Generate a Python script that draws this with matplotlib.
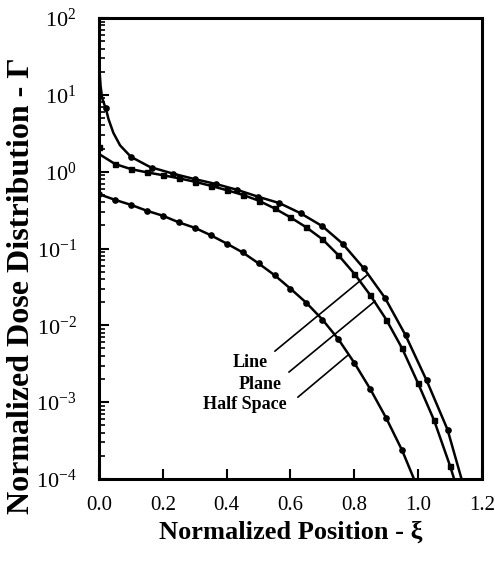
import matplotlib
matplotlib.use('Agg')
import matplotlib.pyplot as plt
import matplotlib.ticker as ticker

plt.rcParams['font.family'] = ['Liberation Serif', 'DejaVu Serif']
plt.rcParams['mathtext.fontset'] = 'custom'
plt.rcParams['mathtext.rm'] = 'Liberation Serif'
plt.rcParams['mathtext.it'] = 'Liberation Serif:italic'
plt.rcParams['mathtext.bf'] = 'Liberation Serif:bold'

# Line source (solid curve and markers)
line_x = [0.002, 0.005, 0.01, 0.022, 0.03, 0.045, 0.066, 0.1, 0.16, 0.233, 0.30, 0.367, 0.433,
          0.5, 0.565, 0.63, 0.7, 0.763, 0.83, 0.896, 0.96, 1.027, 1.092, 1.136, 1.15]
line_y = [20, 13, 9, 6.5, 4.8, 3.2, 2.2, 1.56, 1.15, 0.94, 0.80, 0.69, 0.58,
          0.47, 0.39, 0.29, 0.195, 0.116, 0.055, 0.0228, 0.0075, 0.0019, 0.00044, 0.0001, 0.00006]
line_mx = [0.022, 0.1, 0.165, 0.233, 0.30, 0.367, 0.433, 0.499, 0.564, 0.632, 0.698, 0.763,
           0.831, 0.896, 0.962, 1.027, 1.092]
line_my = [6.7, 1.56, 1.13, 0.94, 0.80, 0.69, 0.58, 0.47, 0.394, 0.292, 0.196, 0.116,
           0.055, 0.0228, 0.00745, 0.00193, 0.00044]

# Plane source
plane_x = [0.0, 0.05, 0.1, 0.15, 0.2, 0.25, 0.3, 0.35, 0.4, 0.45, 0.5, 0.55, 0.6, 0.65, 0.7,
           0.75, 0.8, 0.85, 0.9, 0.95, 1.0, 1.05, 1.1, 1.12]
plane_y = [1.7, 1.26, 1.08, 0.98, 0.90, 0.82, 0.74, 0.655, 0.575, 0.50, 0.42, 0.333, 0.254, 0.188,
           0.132, 0.082, 0.047, 0.0247, 0.0119, 0.005, 0.00175, 0.00058, 0.000148, 0.00008]
plane_mx = [0.0, 0.05, 0.1, 0.15, 0.2, 0.25, 0.3, 0.35, 0.4, 0.45, 0.5, 0.55, 0.6, 0.65, 0.7,
            0.75, 0.8, 0.85, 0.9, 0.95, 1.0, 1.05, 1.1]
plane_my = [2.1, 1.26, 1.08, 0.98, 0.90, 0.82, 0.74, 0.655, 0.575, 0.50, 0.42, 0.333, 0.254, 0.188,
            0.132, 0.082, 0.047, 0.0247, 0.0119, 0.005, 0.00175, 0.00058, 0.000148]

# Half space source
half_x = [0.0, 0.05, 0.1, 0.15, 0.2, 0.25, 0.3, 0.35, 0.4, 0.45, 0.5, 0.55, 0.6, 0.65, 0.7,
          0.75, 0.8, 0.85, 0.9, 0.95, 1.0]
half_y = [0.51, 0.43, 0.37, 0.31, 0.267, 0.219, 0.186, 0.149, 0.116, 0.089, 0.064, 0.045, 0.030,
          0.0196, 0.0119, 0.0066, 0.00325, 0.00148, 0.00062, 0.000235, 0.000074]

# label text positions and leader line (start, end) in data units
labels = ['Line', 'Plane', 'Half Space']
label_pos = [(0.42, 0.00332), (0.439, 0.00171), (0.326, 0.00094)]
leader_start = [(0.551, 0.00461), (0.595, 0.00246), (0.623, 0.00116)]
leader_end = [(0.840, 0.0451), (0.865, 0.0207), (0.780, 0.00409)]

xticks = [0.0, 0.2, 0.4, 0.6, 0.8, 1.0, 1.2]
yticks = [1e-4, 1e-3, 1e-2, 1e-1, 1e0, 1e1, 1e2]


def main():
  fig = plt.figure(figsize=(4.95, 5.66), dpi=100)
  ax = fig.add_axes([0.2, 0.1537, 0.7737, 0.8145])

  ax.plot(line_x, line_y, color='k', lw=1.8)
  ax.plot(line_mx, line_my, 'o', color='k', ms=3.8)
  ax.plot(plane_x, plane_y, color='k', lw=1.8)
  ax.plot(plane_mx, plane_my, 's', color='k', ms=3.6)
  ax.plot(half_x, half_y, color='k', lw=1.8)
  ax.plot(half_x[:-1], half_y[:-1], 'o', color='k', ms=3.8)

  ax.set_yscale('log')
  ax.set_xlim(0, 1.2)
  ax.set_ylim(1e-4, 1e2)
  ax.set_xticks(xticks)
  ax.xaxis.set_major_formatter(ticker.FormatStrFormatter('%.1f'))
  ax.yaxis.set_major_locator(ticker.FixedLocator(yticks))
  ax.yaxis.set_major_formatter(ticker.LogFormatterMathtext())
  ax.yaxis.set_minor_locator(ticker.LogLocator(base=10, subs=range(2, 10), numticks=20))
  ax.yaxis.set_minor_formatter(ticker.NullFormatter())

  ax.tick_params(axis='x', which='major', direction='in', length=7, width=1.5, labelsize=15, pad=12)
  ax.tick_params(axis='y', which='major', direction='in', length=7, width=1.5, labelsize=16, pad=16)
  ax.tick_params(axis='y', which='minor', direction='in', length=4, width=1.2)
  for s in ax.spines.values():
    s.set_linewidth(2.2)

  for name, pos, a, b in zip(labels, label_pos, leader_start, leader_end):
    ax.text(pos[0], pos[1], name, fontsize=13, fontweight='bold', ha='left', va='center')
    ax.annotate('', xy=b, xytext=a, arrowprops=dict(arrowstyle='-', lw=1.2, color='k',
                shrinkA=0, shrinkB=0))

  ax.set_xlabel('Normalized Position - \u03be', fontsize=19, fontweight='bold', labelpad=4)
  ax.set_ylabel('Normalized Dose Distribution - \u0393', fontsize=23, fontweight='bold')
  ax.yaxis.set_label_coords(-0.165, 0.42)

  fig.savefig('out.png', dpi=100)
  plt.close(fig)


if __name__ == "__main__":
  main()
